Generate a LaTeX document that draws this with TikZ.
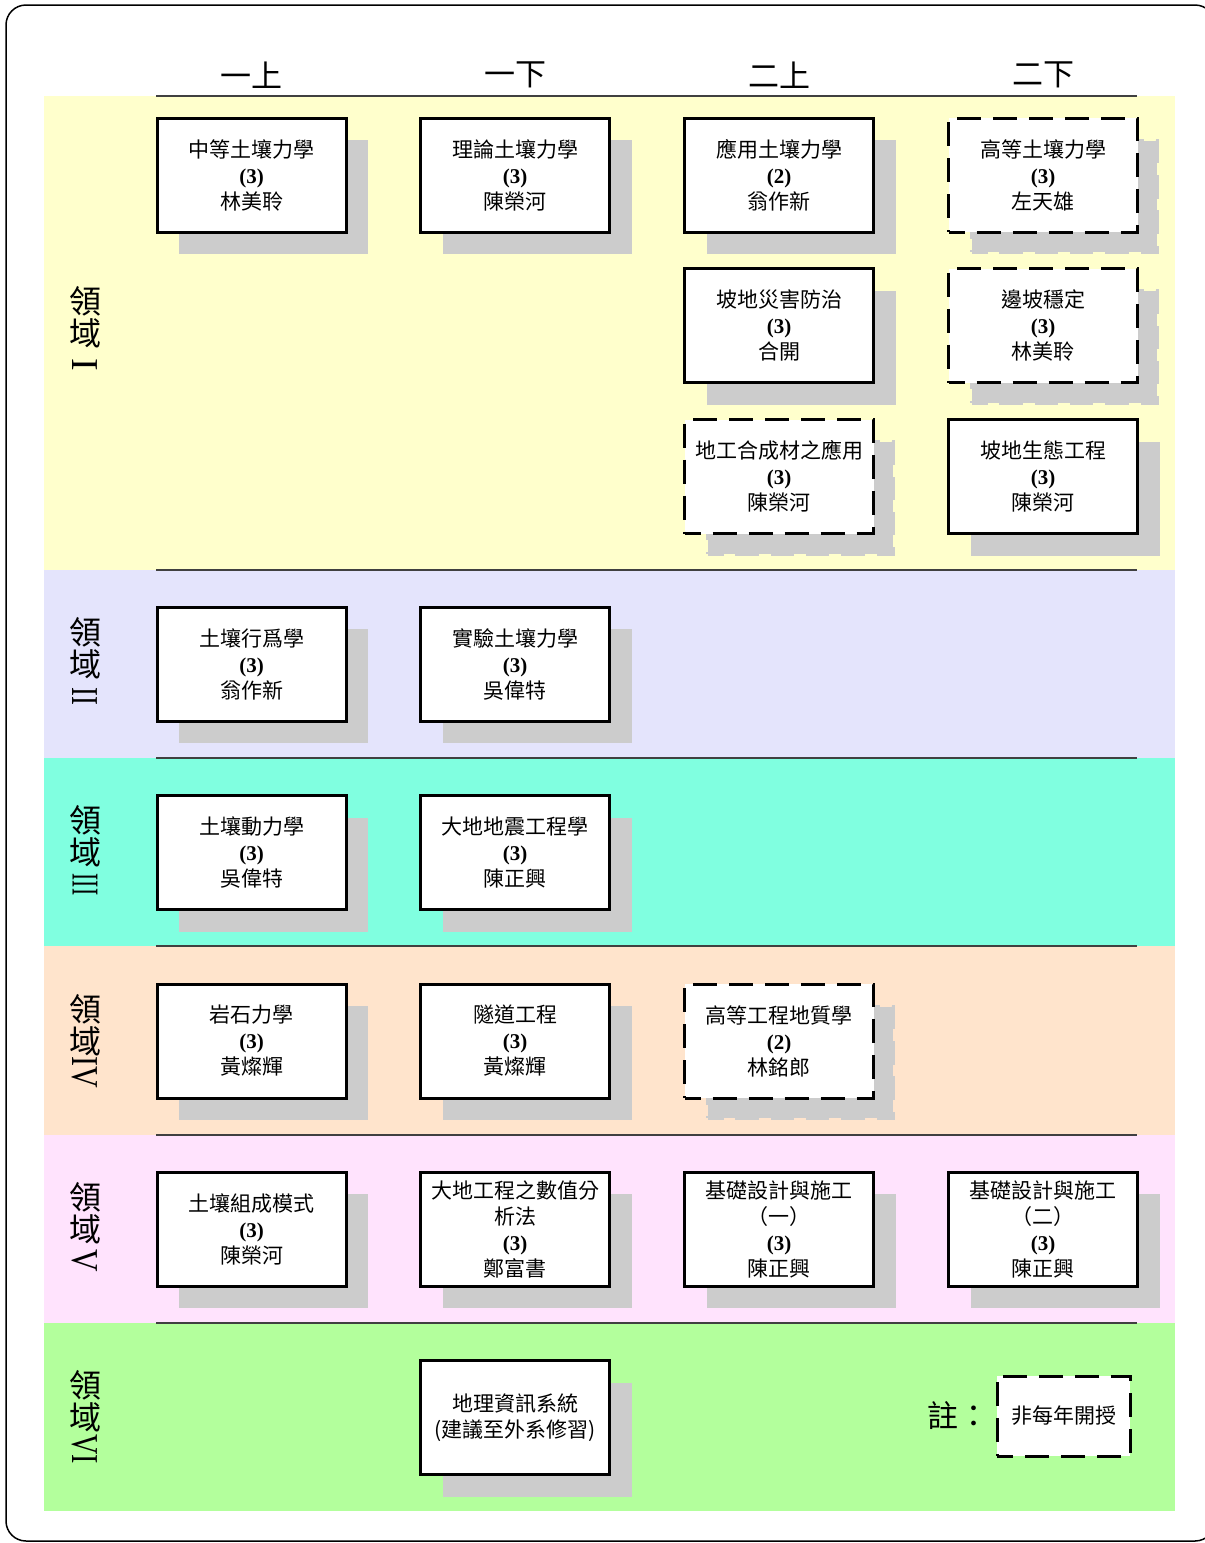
\documentclass[tikz,border=0pt]{standalone}
\usepackage{fontspec}
\setmainfont{Noto Sans CJK TC}
\newfontfamily\serifnum{Liberation Serif}
\usetikzlibrary{shadows}
\definecolor{bandone}{HTML}{FFFFCC}
\definecolor{bandtwo}{HTML}{E4E4FC}
\definecolor{bandthree}{HTML}{80FFE0}
\definecolor{bandfour}{HTML}{FFE4CC}
\definecolor{bandfive}{HTML}{FFE3FD}
\definecolor{bandsix}{HTML}{B3FF9C}
\definecolor{shadowgray}{HTML}{CCCCCC}
\definecolor{sepgray}{HTML}{404040}
\newcommand\crdt[1]{{\serifnum\bfseries #1}}
\tikzset{
  boxbase/.style={line width=3pt, fill=white, minimum width=189pt, minimum height=114pt,
    inner sep=0pt, align=center, font=\fontsize{21}{26}\selectfont},
  course/.style={boxbase, draw=black, solid,
    general shadow={fill=shadowgray, draw=none, shadow xshift=22pt, shadow yshift=-22pt}},
  optcourse/.style={boxbase, draw=black, dash pattern=on 24pt off 12pt, dash phase=8pt,
    general shadow={fill=shadowgray, draw=shadowgray, line width=4pt, dash pattern=on 24pt off 12pt, dash phase=8pt,
      shadow scale=0.98, shadow xshift=22pt, shadow yshift=-22pt}},
  sepline/.style={draw=sepgray, line width=1.5pt},
  header/.style={font=\fontsize{31}{31}\selectfont, inner sep=0pt},
  fieldname/.style={font=\fontsize{32}{32}\selectfont, align=center, inner sep=0pt},
  numeral/.style={font=\serifnum\fontsize{38}{38}\selectfont, inner sep=0pt, rotate=-90},
}
\begin{document}
\begin{tikzpicture}[x=1pt, y=-1pt]
\useasboundingbox (0,0) rectangle (1205,1543);
% outer frame
\draw[line width=1.5pt, rounded corners=20pt] (6,5) rectangle (1215,1541);
% bands
\fill[bandone]   (44,96)   rectangle (1175,570);
\fill[bandtwo]   (44,570)  rectangle (1175,758);
\fill[bandthree] (44,758)  rectangle (1175,946);
\fill[bandfour]  (44,946)  rectangle (1175,1135);
\fill[bandfive]  (44,1135) rectangle (1175,1323);
\fill[bandsix]   (44,1323) rectangle (1175,1511);
% separators
\coordinate (s0a) at (156,96);   \coordinate (s0b) at (1137,96);
\coordinate (s1a) at (156,570);  \coordinate (s1b) at (1137,570);
\coordinate (s2a) at (156,758);  \coordinate (s2b) at (1137,758);
\coordinate (s3a) at (156,946);  \coordinate (s3b) at (1137,946);
\coordinate (s4a) at (156,1135); \coordinate (s4b) at (1137,1135);
\coordinate (s5a) at (156,1323); \coordinate (s5b) at (1137,1323);
\foreach \i in {0,...,5} { \draw[sepline] (s\i a) -- (s\i b); }
% headers
\node[header] (h1) at (251.5,75) {一上};
\node[header] (h2) at (515,75) {一下};
\node[header] (h3) at (779,75) {二上};
\node[header] (h4) at (1043,75) {二下};
% field labels
\node[fieldname] (f1) at (85,317) {領\\域};
\node[numeral, xscale=1] (n1) at (85,365) {I};
\node[fieldname] (f2) at (85,648) {領\\域};
\node[numeral, xscale=0.7] (n2) at (85,696) {II};
\node[fieldname] (f3) at (85,836.5) {領\\域};
\node[numeral, xscale=0.57] (n3) at (85,884.5) {III};
\node[fieldname] (f4) at (85,1025) {領\\域};
\node[numeral, xscale=0.79] (n4) at (85,1072.5) {IV};
\node[fieldname] (f5) at (85,1213) {領\\域};
\node[numeral, xscale=0.82] (n5) at (85,1261) {V};
\node[fieldname] (f6) at (85,1401.5) {領\\域};
\node[numeral, xscale=0.74] (n6) at (85,1449.5) {VI};
% band I
\node[course]    (a1) at (251.5,175) {中等土壤力學\\\crdt{(3)}\\林美聆};
\node[course]    (a2) at (515,175)   {理論土壤力學\\\crdt{(3)}\\陳榮河};
\node[course]    (a3) at (779,175)   {應用土壤力學\\\crdt{(2)}\\翁作新};
\node[optcourse] (a4) at (1043,175)  {高等土壤力學\\\crdt{(3)}\\左天雄};
\node[course]    (b3) at (779,325.5) {坡地災害防治\\\crdt{(3)}\\合開};
\node[optcourse] (b4) at (1043,325.5){邊坡穩定\\\crdt{(3)}\\林美聆};
\node[optcourse] (c3) at (779,476.5) {地工合成材之應用\\\crdt{(3)}\\陳榮河};
\node[course]    (c4) at (1043,476.5){坡地生態工程\\\crdt{(3)}\\陳榮河};
% band II
\node[course] (d1) at (251.5,664) {土壤行爲學\\\crdt{(3)}\\翁作新};
\node[course] (d2) at (515,664)   {實驗土壤力學\\\crdt{(3)}\\吳偉特};
% band III
\node[course] (e1) at (251.5,852.5) {土壤動力學\\\crdt{(3)}\\吳偉特};
\node[course] (e2) at (515,852.5)   {大地地震工程學\\\crdt{(3)}\\陳正興};
% band IV
\node[course]    (g1) at (251.5,1041) {岩石力學\\\crdt{(3)}\\黃燦輝};
\node[course]    (g2) at (515,1041)   {隧道工程\\\crdt{(3)}\\黃燦輝};
\node[optcourse] (g3) at (779,1041)   {高等工程地質學\\\crdt{(2)}\\林銘郎};
% band V
\node[course] (k1) at (251.5,1229) {土壤組成模式\\\crdt{(3)}\\陳榮河};
\node[course] (k2) at (515,1229)   {大地工程之數值分\\析法\\\crdt{(3)}\\鄭富書};
\node[course] (k3) at (779,1229)   {基礎設計與施工\\（一）\\\crdt{(3)}\\陳正興};
\node[course] (k4) at (1043,1229)  {基礎設計與施工\\（二）\\\crdt{(3)}\\陳正興};
% band VI
\node[course] (m2) at (515,1417.5) {地理資訊系統\\(建議至外系修習)};
% note
\node[font=\fontsize{31}{31}\selectfont, inner sep=0pt] (note) at (958,1415) {註：};
\node[boxbase, draw=black, dash pattern=on 24pt off 12pt, dash phase=8pt, minimum width=133pt, minimum height=80pt] (legend) at (1063.5,1416) {非每年開授};
\end{tikzpicture}
\end{document}
